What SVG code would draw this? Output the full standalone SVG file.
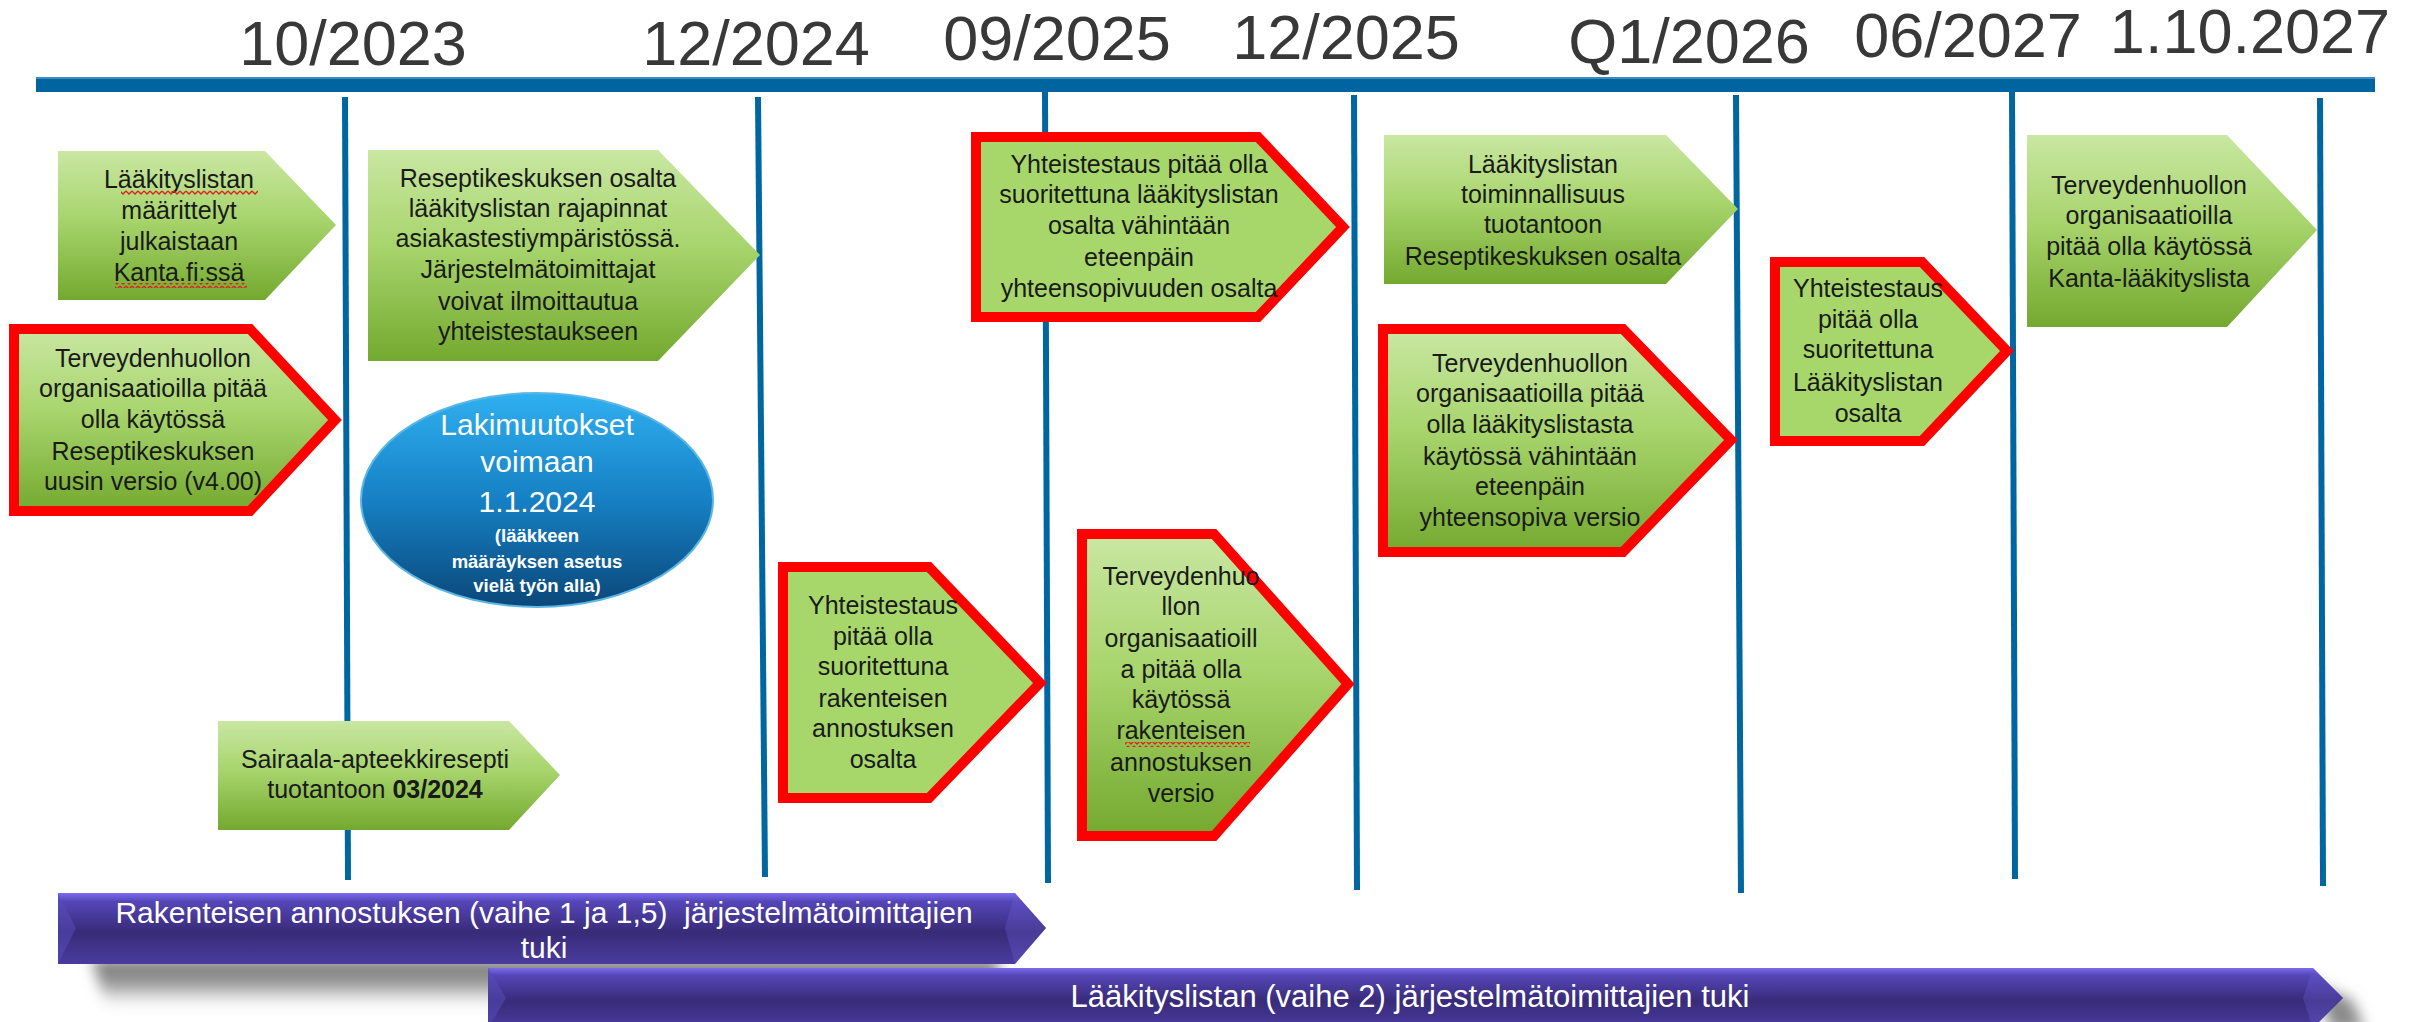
<svg xmlns="http://www.w3.org/2000/svg" width="2412" height="1022" viewBox="0 0 2412 1022">
<defs>
<linearGradient id="gGreen" x1="0" y1="0" x2="0" y2="1">
<stop offset="0" stop-color="#C9E7A2"/>
<stop offset="0.45" stop-color="#A8D56D"/>
<stop offset="1" stop-color="#74A92F"/>
</linearGradient>
<linearGradient id="gBlue" x1="0" y1="0" x2="0" y2="1">
<stop offset="0" stop-color="#2FB0F0"/>
<stop offset="0.5" stop-color="#1680C4"/>
<stop offset="1" stop-color="#0A4779"/>
</linearGradient>
<linearGradient id="gPurple" x1="0" y1="0" x2="0" y2="1">
<stop offset="0" stop-color="#7A6CEC"/>
<stop offset="0.12" stop-color="#5546B8"/>
<stop offset="0.55" stop-color="#382B78"/>
<stop offset="1" stop-color="#4A3B9E"/>
</linearGradient>
<linearGradient id="gShadow" x1="0" y1="0" x2="0" y2="1">
<stop offset="0" stop-color="#707070"/>
<stop offset="0.5" stop-color="#a0a0a0"/>
<stop offset="1" stop-color="#ffffff" stop-opacity="0"/>
</linearGradient>
<filter id="blur" x="-20%" y="-50%" width="140%" height="200%">
<feGaussianBlur stdDeviation="7"/>
</filter>
<pattern id="squig" width="6" height="5" patternUnits="userSpaceOnUse">
<polyline points="0,1 3,4 6,1" fill="none" stroke="#E02020" stroke-width="1.3"/>
</pattern>
</defs>
<style>
.date{font-family:"Liberation Sans",Arial,sans-serif;font-size:63px;fill:#383838;text-anchor:middle}
.t{font-family:"Liberation Sans",Arial,sans-serif;font-size:25px;fill:#1a1a1a;text-anchor:middle}
.plain{fill:url(#gGreen)}
.red{stroke:#FF0000;stroke-width:10;stroke-linejoin:miter;stroke-miterlimit:10}
.redg{fill:url(#gGreen)}
.redf{fill:#A7D76B}
.mark{stroke:#0066A2;stroke-width:6;stroke-linecap:butt}
.wt{font-family:"Liberation Sans",Arial,sans-serif;fill:#ffffff;text-anchor:middle}
.bar{fill:url(#gPurple)}
.bevel{fill:#5A4BB8;opacity:0.55}
</style>
<rect width="2412" height="1022" fill="#ffffff"/>

<g id="dates">
<text class="date" x="353" y="65">10/2023</text>
<text class="date" x="756" y="65">12/2024</text>
<text class="date" x="1057" y="60">09/2025</text>
<text class="date" x="1346" y="59">12/2025</text>
<text class="date" x="1689" y="63">Q1/2026</text>
<text class="date" x="1968" y="57">06/2027</text>
<text class="date" x="2250" y="53">1.10.2027</text>
</g>

<g id="connectors">
<rect x="36" y="77" width="2339" height="15" fill="#0064A0"/>
<rect x="36" y="77" width="2339" height="2" fill="#3C8CC4"/>
<line class="mark" x1="345" y1="97" x2="348" y2="880"/>
<line class="mark" x1="758" y1="97" x2="765" y2="877"/>
<line class="mark" x1="1045" y1="90" x2="1048" y2="883"/>
<line class="mark" x1="1354" y1="95" x2="1357" y2="890"/>
<line class="mark" x1="1736" y1="95" x2="1741" y2="893"/>
<line class="mark" x1="2012" y1="90" x2="2015" y2="879"/>
<line class="mark" x1="2320" y1="98" x2="2323" y2="886"/>
</g>

<g id="n1">
<polygon class="plain" points="58,151 265,151 336,225 265,300 58,300"/>
<text class="t" x="179" y="188">Lääkityslistan</text>
<text class="t" x="179" y="219">määrittelyt</text>
<text class="t" x="179" y="250">julkaistaan</text>
<text class="t" x="179" y="281">Kanta.fi:ssä</text>
<rect x="121" y="190" width="137" height="5" fill="url(#squig)"/>
<rect x="115" y="283" width="132" height="5" fill="url(#squig)"/>
</g>

<g id="n2">
<polygon class="red redg" points="14,329 250,329 335,420 250,511 14,511"/>
<text class="t" x="153" y="367">Terveydenhuollon</text>
<text class="t" x="153" y="397">organisaatioilla pitää</text>
<text class="t" x="153" y="428">olla käytössä</text>
<text class="t" x="153" y="460">Reseptikeskuksen</text>
<text class="t" x="153" y="490">uusin versio (v4.00)</text>
</g>

<g id="n3">
<polygon class="plain" points="368,150 658,150 760,255 658,361 368,361"/>
<text class="t" x="538" y="187">Reseptikeskuksen osalta</text>
<text class="t" x="538" y="217">lääkityslistan rajapinnat</text>
<text class="t" x="538" y="247">asiakastestiympäristössä.</text>
<text class="t" x="538" y="278">Järjestelmätoimittajat</text>
<text class="t" x="538" y="310">voivat ilmoittautua</text>
<text class="t" x="538" y="340">yhteistestaukseen</text>
</g>

<g id="n4">
<ellipse cx="537" cy="500" rx="176" ry="107" fill="url(#gBlue)" stroke="#5BB6E6" stroke-width="2"/>
<text class="wt" x="537" y="435" font-size="30">Lakimuutokset</text>
<text class="wt" x="537" y="472" font-size="30">voimaan</text>
<text class="wt" x="537" y="512" font-size="30">1.1.2024</text>
<text class="wt" x="537" y="542" font-size="18.5" font-weight="bold">(lääkkeen</text>
<text class="wt" x="537" y="568" font-size="18.5" font-weight="bold">määräyksen asetus</text>
<text class="wt" x="537" y="592" font-size="18.5" font-weight="bold">vielä työn alla)</text>
</g>

<g id="n5">
<polygon class="plain" points="218,721 509,721 560,775 509,830 218,830"/>
<text class="t" x="375" y="768">Sairaala-apteekkiresepti</text>
<text class="t" x="375" y="798">tuotantoon <tspan font-weight="bold">03/2024</tspan></text>
</g>

<g id="n6">
<polygon class="red redf" points="783,567 929,567 1040,683 929,798 783,798"/>
<text class="t" x="883" y="614">Yhteistestaus</text>
<text class="t" x="883" y="645">pitää olla</text>
<text class="t" x="883" y="675">suoritettuna</text>
<text class="t" x="883" y="707">rakenteisen</text>
<text class="t" x="883" y="737">annostuksen</text>
<text class="t" x="883" y="768">osalta</text>
</g>

<g id="n7">
<polygon class="red redf" points="976,137 1258,137 1343,227 1258,317 976,317"/>
<text class="t" x="1139" y="173">Yhteistestaus pitää olla</text>
<text class="t" x="1139" y="203">suoritettuna lääkityslistan</text>
<text class="t" x="1139" y="234">osalta vähintään</text>
<text class="t" x="1139" y="266">eteenpäin</text>
<text class="t" x="1139" y="297">yhteensopivuuden osalta</text>
</g>

<g id="n8">
<polygon class="red redg" points="1082,534 1214,534 1348,684 1214,836 1082,836"/>
<text class="t" x="1181" y="585">Terveydenhuo</text>
<text class="t" x="1181" y="615">llon</text>
<text class="t" x="1181" y="647">organisaatioill</text>
<text class="t" x="1181" y="678">a pitää olla</text>
<text class="t" x="1181" y="708">käytössä</text>
<text class="t" x="1181" y="739">rakenteisen</text>
<text class="t" x="1181" y="771">annostuksen</text>
<text class="t" x="1181" y="802">versio</text>
<rect x="1125" y="742" width="125" height="5" fill="url(#squig)"/>
</g>

<g id="n9">
<polygon class="plain" points="1384,135 1666,135 1738,209 1666,284 1384,284"/>
<text class="t" x="1543" y="173">Lääkityslistan</text>
<text class="t" x="1543" y="203">toiminnallisuus</text>
<text class="t" x="1543" y="233">tuotantoon</text>
<text class="t" x="1543" y="265">Reseptikeskuksen osalta</text>
</g>

<g id="n10">
<polygon class="red redg" points="1383,329 1623,329 1731,440 1623,552 1383,552"/>
<text class="t" x="1530" y="372">Terveydenhuollon</text>
<text class="t" x="1530" y="402">organisaatioilla pitää</text>
<text class="t" x="1530" y="433">olla lääkityslistasta</text>
<text class="t" x="1530" y="465">käytössä vähintään</text>
<text class="t" x="1530" y="495">eteenpäin</text>
<text class="t" x="1530" y="526">yhteensopiva versio</text>
</g>

<g id="n11">
<polygon class="red redf" points="1775,262 1922,262 2007,351 1922,441 1775,441"/>
<text class="t" x="1868" y="297">Yhteistestaus</text>
<text class="t" x="1868" y="328">pitää olla</text>
<text class="t" x="1868" y="358">suoritettuna</text>
<text class="t" x="1868" y="391">Lääkityslistan</text>
<text class="t" x="1868" y="422">osalta</text>
</g>

<g id="n12">
<polygon class="plain" points="2027,135 2227,135 2317,230 2227,327 2027,327"/>
<text class="t" x="2149" y="194">Terveydenhuollon</text>
<text class="t" x="2149" y="224">organisaatioilla</text>
<text class="t" x="2149" y="255">pitää olla käytössä</text>
<text class="t" x="2149" y="287">Kanta-lääkityslista</text>
</g>

<g id="shadows">
<polygon points="92,960 1000,960 990,1012 108,1012" fill="url(#gShadow)" filter="url(#blur)"/>
<polygon points="2318,985 2352,1000 2365,1030 2330,1030" fill="#8a8a8a" filter="url(#blur)"/>
</g>

<g id="n13">
<polygon class="bar" points="58,893 1015,893 1046,928 1015,964 58,964"/>
<polygon class="bevel" points="58,893 76,928 58,964"/>
<polygon points="1015,893 1046,928 1015,964 1005,928" fill="#6A5BD0" opacity="0.35"/>
<text class="wt" x="544" y="923" font-size="30">Rakenteisen annostuksen (vaihe 1 ja 1,5) &#160;järjestelmätoimittajien</text>
<text class="wt" x="544" y="958" font-size="30">tuki</text>
</g>

<g id="n14">
<polygon class="bar" points="488,968 2313,968 2343,998 2313,1028 488,1028"/>
<polygon class="bevel" points="488,968 506,998 488,1028"/>
<polygon points="2313,968 2343,998 2313,1028 2303,998" fill="#6A5BD0" opacity="0.35"/>
<text class="wt" x="1410" y="1007" font-size="31">Lääkityslistan (vaihe 2) järjestelmätoimittajien tuki</text>
</g>
</svg>
